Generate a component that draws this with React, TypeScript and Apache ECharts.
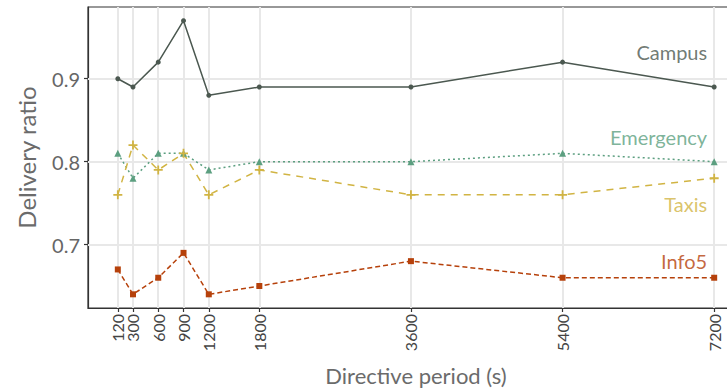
import React, { useEffect, useRef } from "react";
import * as echarts from "echarts";

const periods = [120, 300, 600, 900, 1200, 1800, 3600, 5400, 7200];
const campus = [0.9, 0.89, 0.92, 0.97, 0.88, 0.89, 0.89, 0.92, 0.89];
const emergency = [0.81, 0.78, 0.81, 0.81, 0.79, 0.8, 0.8, 0.81, 0.8];
const taxis = [0.76, 0.82, 0.79, 0.81, 0.76, 0.79, 0.76, 0.76, 0.78];
const info5 = [0.67, 0.64, 0.66, 0.69, 0.64, 0.65, 0.68, 0.66, 0.66];
const yTicks = [0.7, 0.8, 0.9];
const seriesNames = ["Campus", "Emergency", "Taxis", "Info5"];
const labelY = [0.9325, 0.83, 0.749, 0.68];

const FONT = "Lato";
const colors = ["#4b5850", "#5c9f80", "#d1b443", "#b6410b"];

export default function App() {
  const ref = useRef<HTMLDivElement>(null);
  useEffect(() => {
    if (!ref.current) return;
    const chart = echarts.init(ref.current, null, { renderer: "svg" });
    const xMin = 120 - (7200 - 120) * 0.05;
    const xMax = 7200 + (7200 - 120) * 0.05;
    const yMin = 0.64 - 0.33 * 0.05;
    const yMax = 0.97 + 0.33 * 0.05;
    const pair = (vals: number[]) => periods.map((p, i) => [p, vals[i]]);
    const values = [campus, emergency, taxis, info5];
    const symbols = [
      "circle",
      "triangle",
      "path://M4,0H6V4H10V6H6V10H4V6H0V4H4Z",
      "rect",
    ];
    const sizes = [5, 7, 9, 6];
    const lineTypes: any[] = ["solid", [2, 3], [7, 6], [5, 3]];
    const series: any[] = [
      {
        type: "line",
        data: [],
        silent: true,
        markLine: {
          silent: true,
          symbol: "none",
          label: { show: false },
          lineStyle: { color: "#e8e8e8", width: 2, type: "solid" },
          data: [
            ...periods.map((p) => ({ xAxis: p })),
            ...yTicks.map((v) => ({ yAxis: v })),
          ],
        },
        z: 0,
      },
    ];
    values.forEach((vals, i) => {
      series.push({
        type: "line",
        name: seriesNames[i],
        data: pair(vals),
        symbol: symbols[i],
        symbolSize: sizes[i],
        showSymbol: true,
        lineStyle: { color: colors[i], width: 1.5, type: lineTypes[i] },
        itemStyle: { color: colors[i] },
        z: 5,
      });
      series.push({
        type: "scatter",
        data: [[7200, labelY[i]]],
        symbolSize: 0,
        silent: true,
        label: {
          show: true,
          position: "left",
          distance: 7,
          formatter: seriesNames[i],
          color: colors[i],
          fontSize: 20,
          fontFamily: FONT,
        },
        z: 6,
      });
    });
    const xLabelStyle = {
      rotate: 90,
      interval: 0,
      fontSize: 16,
      color: "#444444",
      fontFamily: FONT,
      margin: 6,
      hideOverlap: false,
      formatter: (v: number) => String(v),
    };
    chart.setOption({
      animation: false,
      grid: {
        left: 88,
        top: 7,
        bottom: 84,
        right: 16,
        show: true,
        borderColor: "#333333",
        borderWidth: 1.2,
        backgroundColor: "transparent",
      },
      xAxis: [
        {
          type: "value",
          position: "bottom",
          min: xMin,
          max: xMax,
          name: "Directive period (s)",
          nameLocation: "middle",
          nameGap: 56,
          nameTextStyle: { fontSize: 22, color: "#6b6b6b", fontFamily: FONT },
          axisLine: {
            show: true,
            onZero: false,
            lineStyle: { color: "#333333", width: 1.2 },
          },
          axisTick: {
            show: true,
            length: 4,
            lineStyle: { color: "#333333", width: 1.2 },
            customValues: periods,
          },
          axisLabel: { ...xLabelStyle, customValues: periods.slice(1) },
          splitLine: { show: false },
        },
        {
          type: "value",
          position: "bottom",
          offset: 0,
          min: xMin,
          max: xMax,
          axisLine: { show: false, onZero: false },
          axisTick: { show: false },
          axisLabel: { ...xLabelStyle, customValues: periods.slice(0, 1) },
          splitLine: { show: false },
        },
      ],
      yAxis: {
        type: "value",
        min: yMin,
        max: yMax,
        name: "Delivery ratio",
        nameLocation: "middle",
        nameGap: 50,
        nameTextStyle: { fontSize: 24, color: "#6b6b6b", fontFamily: FONT },
        axisLine: {
          show: true,
          onZero: false,
          lineStyle: { color: "#333333", width: 1.2 },
        },
        axisTick: {
          show: true,
          length: 4,
          lineStyle: { color: "#333333", width: 1.2 },
          customValues: yTicks,
        },
        axisLabel: {
          fontSize: 20,
          color: "#666666",
          fontFamily: FONT,
          margin: 8,
          customValues: yTicks,
          formatter: (v: number) => v.toFixed(1),
        },
        splitLine: { show: false },
      },
      series,
    });
    return () => chart.dispose();
  }, []);
  return (
    <div
      style={{
        position: "fixed",
        left: 0,
        top: 0,
        width: 727,
        height: 392,
        overflow: "hidden",
        background: "#ffffff",
      }}
    >
      <div ref={ref} style={{ width: 760, height: 392 }} />
    </div>
  );
}
